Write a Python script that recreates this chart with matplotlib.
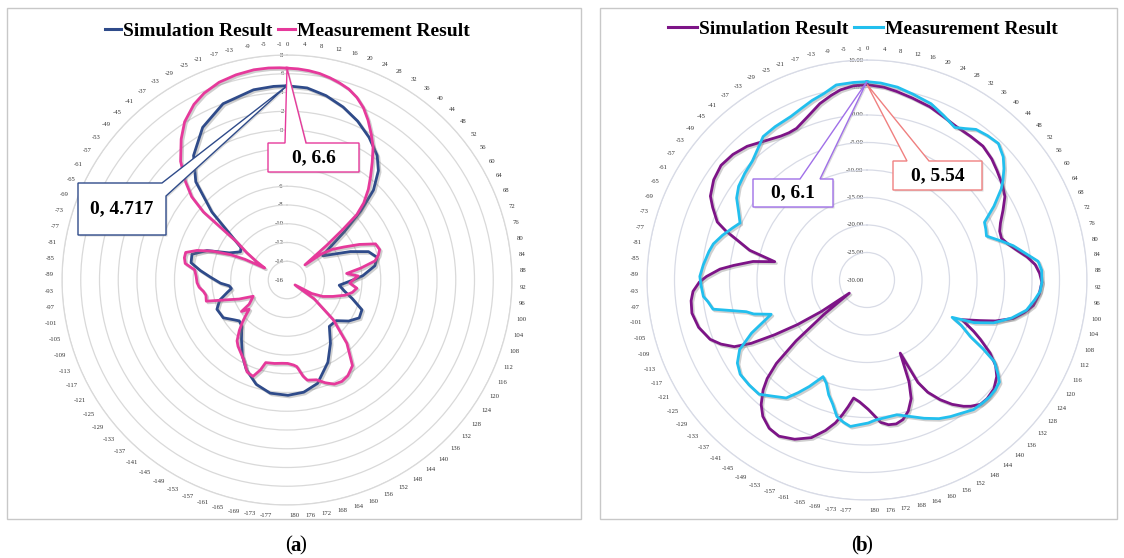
import numpy as np
import matplotlib
matplotlib.use('Agg')
import matplotlib.pyplot as plt
import matplotlib.patheffects as pe
from matplotlib.patches import Polygon, Rectangle
from matplotlib.lines import Line2D
from matplotlib.font_manager import FontProperties
import matplotlib.transforms as mtransforms

W, H = 1124, 558
N_CAT = 361  # categories: 0..180, -180..-1

# ---------------- data ----------------
tick_angles = list(range(0, 181, 4)) + list(range(-177, 0, 4))
tick_labels = [str(a) for a in tick_angles]

sim_a_angle = [0, 6, 12, 18, 24, 30, 36, 40, 44, 47, 50, 53, 56, 60, 66, 71, 76, 81, 87, 91,
               96, 101, 106, 112, 118, 124, 130, 138, 146, 154, 164, 172, 180, -172, -164,
               -156, -150, -143, -136, -131, -127, -121, -113, -107, -102, -99, -96, -93,
               -88, -84, -80, -75, -70, -65, -59, -55, -52, -48, -43, -37, -29, -20, -10, -4]
sim_a_value = [4.72, 4.6, 4.1, 3.4, 2.55, 1.55, 0.4, -0.8, -2.7, -5.2, -8.0, -10.3, -11.4,
               -10.6, -8.6, -6.8, -6.1, -6.5, -7.9, -9.2, -10.4, -9.8, -8.8, -7.4, -7.3, -8.1,
               -9.2, -9.3, -7.8, -6.2, -4.5, -3.9, -3.7, -3.8, -4.4, -5.5, -6.6, -8.0, -9.1,
               -9.3, -8.9, -8.1, -7.9, -8.5, -9.5, -10.0, -9.8, -8.9, -7.8, -6.7, -5.6, -5.5,
               -6.9, -9.2, -10.2, -10.0, -8.6, -5.2, -1.7, 0.6, 2.6, 4.0, 4.6, 4.7]

meas_a_angle = [0, 3, 6, 9, 12, 15, 18, 21, 24, 27, 30, 33, 36, 39, 42, 45, 47, 48, 49, 50,
                53, 56, 60, 64, 68, 72, 75, 78, 81, 84, 87, 90, 93, 97, 101, 105, 110, 115,
                119, 122, 125, 131, 137, 143, 148, 152, 156, 160, 164, 169, 171, 174, 176,
                180, -177, -172, -166, -164, -161, -157, -152, -148, -144, -141, -137, -134,
                -131, -128, -125, -123, -120, -116, -112, -108, -105, -101, -98, -95, -92,
                -88, -84, -81, -78, -75, -72, -69, -66, -64, -62, -59, -56, -53, -51, -49,
                -46, -42, -37, -33, -28, -24, -19, -14, -9, -5, -2]
meas_a_value = [6.6, 6.55, 6.45, 6.3, 6.05, 5.75, 5.4, 4.85, 4.1, 3.1, 2.0, 0.9, -0.5, -1.8,
                -3.0, -4.4, -5.8, -8.0, -10.4, -13.5, -11.4, -10.2, -9.0, -7.4, -5.8, -5.6,
                -5.9, -6.4, -8.0, -9.6, -8.4, -8.9, -9.3, -8.5, -8.9, -9.6, -10.8, -11.8,
                -13.0, -15.0, -12.5, -9.5, -6.7, -4.5, -3.9, -3.7, -3.8, -4.3, -4.9, -5.1,
                -5.6, -6.7, -6.9, -7.1, -7.1, -7.0, -6.9, -6.0, -5.1, -5.3, -6.3, -6.8,
                -7.2, -7.6, -8.6, -9.4, -10.2, -10.9, -10.1, -11.2, -11.6, -12.0, -10.5,
                -9.0, -7.1, -7.2, -7.0, -6.6, -6.4, -6.3, -6.1, -5.0, -4.8, -4.8, -5.9,
                -7.5, -9.4, -11.0, -13.3, -12.2, -10.8, -9.3, -4.5, -2.5, -0.9, 1.0, 2.8,
                4.1, 5.2, 5.8, 6.3, 6.55, 6.7, 6.7, 6.65]

sim_b_angle = [0, 5, 9, 14, 20, 25, 30, 36, 41, 46, 50, 55, 59, 63, 67, 70, 73, 76, 79, 82,
               85, 88, 91, 95, 99, 102, 105, 108, 110, 113, 116, 118, 121, 124, 127, 131,
               135, 138, 141, 143, 146, 149, 152, 154, 156, 158, 160, 163, 166, 169, 172,
               175, 177, 180, -177, -174, -172, -170, -168, -165, -161, -156, -151, -147,
               -143, -140, -137, -135, -133, -131, -129, -127, -125, -123, -121, -119, -117,
               -114, -111, -106, -101, -97, -94, -91, -89, -86, -84, -81, -79, -76, -73,
               -71, -69, -65, -62, -57, -52, -47, -42, -37, -31, -28, -25, -20, -15, -11,
               -8, -4]
sim_b_value = [5.54, 5.2, 4.7, 4.1, 3.5, 2.8, 2.3, 2.2, 2.2, 1.6, 0.9, 0.1, -0.7, -2.2, -3.6,
               -4.3, -4.4, -3.5, -2.2, -0.6, 0.7, 1.4, 1.8, 1.4, 0.6, -0.8, -2.5, -5.5, -8.1,
               -11.3, -8.5, -6.7, -4.0, -1.9, -0.6, 0.4, 0.7, 0.6, -0.3, -1.1, -2.6, -4.5,
               -6.8, -9.2, -15.4, -10.0, -7.0, -5.0, -3.8, -3.3, -3.4, -4.0, -5.1, -6.5,
               -7.8, -8.4, -6.7, -5.0, -3.4, -1.6, 0.4, 1.8, 2.6, 2.3, 1.2, -0.3, -2.5,
               -4.5, -7.6, -13.0, -20.0, -26.0, -20.0, -15.0, -10.5, -6.0, -3.0, -1.0, 0.5,
               1.8, 2.4, 2.2, 1.7, 0.5, -0.8, -3.2, -5.6, -9.0, -12.9, -8.0, -5.2, -2.8,
               -0.8, 1.0, 2.3, 3.3, 3.75, 3.4, 2.65, 1.5, 0.5, 0.3, 0.4, 1.6, 3.2, 4.2, 4.9,
               5.4]

meas_b_angle = [0, 4, 9, 14, 20, 25, 30, 33, 36, 40, 44, 48, 51, 54, 56, 60, 64, 67, 70, 74,
                77, 81, 84, 87, 91, 94, 97, 101, 105, 109, 112, 114, 116, 119, 121, 123, 126,
                128, 131, 134, 137, 141, 145, 149, 153, 158, 163, 168, 172, 177, 180, -177,
                -174, -171, -168, -165, -162, -159, -156, -152, -149, -146, -141, -137,
                -132, -127, -123, -119, -115, -110, -107, -105, -101, -98, -96, -92, -89,
                -85, -80, -77, -73, -69, -66, -62, -58, -54, -49, -44, -40, -36, -31, -25,
                -21, -17, -13, -9, -4]
meas_b_value = [6.06, 5.9, 5.5, 4.8, 4.1, 3.0, 2.0, 2.8, 3.8, 4.2, 4.45, 3.4, 2.1, 0.6, -0.5,
                -3.3, -6.2, -6.5, -6.85, -4.6, -2.7, -0.6, 1.3, 1.8, 1.8, 1.55, 0.7, -0.5,
                -2.8, -5.7, -9.0, -13.1, -11.0, -8.6, -5.5, -2.5, -0.7, 0.4, 0.7, 0.8, 0.7,
                0.5, -0.3, -0.9, -1.6, -2.8, -4.0, -4.9, -4.8, -4.5, -4.0, -3.6, -3.2, -3.8,
                -4.6, -6.6, -8.0, -9.8, -10.7, -8.0, -6.0, -4.0, -2.7, -1.43, -1.3, -1.27,
                -2.0, -3.6, -6.9, -11.5, -8.5, -7.3, -1.5, -0.8, -0.1, 0.2, 0.4, -0.1, -0.8,
                -1.3, -2.5, -3.8, -4.7, -3.5, -2.0, -1.1, -0.5, 0.05, 1.0, 2.2, 2.5, 2.8,
                3.4, 4.15, 4.8, 5.9, 6.0]

legend_labels = ['Simulation Result', 'Measurement Result']
colors_a = ['#2f4b8a', '#e6399b']
colors_b = ['#7d1487', '#22bfee']


def theta_of(angle_list):
    idx = np.array([a if a >= 0 else N_CAT + a for a in angle_list], float)
    return idx * 2 * np.pi / N_CAT


fig = plt.figure(figsize=(W / 100, H / 100), dpi=100)
fig.patch.set_facecolor('white')

serif = 'Liberation Serif'


def px_rect(cx, cy, R):
    return [(cx - R) / W, (H - cy - R) / H, 2 * R / W, 2 * R / H]


def make_polar(cx, cy, R, rmin, rmax, rstep, ring_color, fmt):
    ax = fig.add_axes(px_rect(cx, cy, R), projection='polar')
    ax.set_theta_zero_location('N')
    ax.set_theta_direction(-1)
    ax.set_ylim(rmin, rmax)
    rt = np.arange(rmin, rmax + 1e-6, rstep)
    ax.set_yticks(rt)
    ax.set_yticklabels([])
    ax.yaxis.grid(True, color=ring_color, lw=0.9)
    ax.xaxis.grid(False)
    ax.set_xticks([])
    ax.spines['polar'].set_color(ring_color)
    ax.spines['polar'].set_linewidth(0.9)
    ax.patch.set_alpha(0)
    off = mtransforms.offset_copy(ax.transData, fig=fig, x=-2.5, y=0, units='points')
    for v in rt:
        ax.text(0, v, fmt(v), transform=off, ha='right', va='center', fontsize=4.8,
                family=serif, color='#333333', zorder=1)
    # category (angle) labels, anchored at their edge like Excel
    th = theta_of(tick_angles)
    g = 8.0
    for t, lbl in zip(th, tick_labels):
        w = len(lbl) * 3.4
        h = 6.0
        s = np.sin(t)
        sg = 0.0 if abs(s) < 1e-9 else np.sign(s)
        dx = (R + g) * s + sg * w / 2
        dy = (R + g) * np.cos(t) + np.cos(t) * h / 2
        ax.annotate(lbl, xy=(0, rmin), xytext=(dx, dy),
                    textcoords='offset pixels', ha='center', va='center', fontsize=4.8,
                    family=serif, color='#333333', annotation_clip=False)
    return ax


def draw_series(ax, angles, values, color):
    th = list(theta_of(angles)) + [2 * np.pi]
    vv = list(values) + [values[0]]
    ax.plot(th, vv, color=color, lw=2.0, solid_joinstyle='round', zorder=3,
            path_effects=[pe.SimpleLineShadow(offset=(1.2, -1.2), shadow_color='#777777', alpha=0.35),
                          pe.Normal()])


def callout(ax, value, box, base, text, ec, fs=14):
    # box: (L, T, R, B) in figure pixels (y from top); base: wedge base points in pixels
    tip = ax.transData.transform((0, value))  # display coords
    tipx, tipy = tip[0], tip[1]
    L, T, R, B = box
    if base[1][0] >= R and base[1][1] > T:
        pts_px = [(L, T), base[0], None, base[1], (R, B), (L, B)]
    else:
        pts_px = [(L, T), base[0], None, base[1], (R, T), (R, B), (L, B)]
    pts = []
    for p in pts_px:
        if p is None:
            pts.append((tipx / W, tipy / H))
        else:
            pts.append((p[0] / W, (H - p[1]) / H))
    shadow = Polygon([(x + 1.5 / W, y - 1.5 / H) for x, y in pts], closed=True,
                     transform=fig.transFigure, facecolor='#999999', edgecolor='none',
                     alpha=0.35, zorder=5)
    fig.add_artist(shadow)
    poly = Polygon(pts, closed=True, transform=fig.transFigure, facecolor='white',
                   edgecolor=ec, lw=1.0, zorder=6)
    fig.add_artist(poly)
    fig.text((L + R) / 2 / W, 1 - (T + B) / 2 / H, text, ha='center', va='center',
             fontsize=fs, fontweight='bold', family=serif, color='black', zorder=7)


# frames
fig.add_artist(Rectangle((7 / W, 1 - 519 / H), (581 - 7) / W, (519 - 8) / H,
                         transform=fig.transFigure, fill=False, edgecolor='#c8c8c8', lw=1.0))
fig.add_artist(Rectangle((600 / W, 1 - 519 / H), (1117 - 600) / W, (519 - 8) / H,
                         transform=fig.transFigure, fill=False, edgecolor='#c8c8c8', lw=1.0))

# panel (a)
axa = make_polar(287, 280, 225, -16, 8, 2, '#d9d9d9', lambda v: '%d' % v)
draw_series(axa, sim_a_angle, sim_a_value, colors_a[0])
draw_series(axa, meas_a_angle, meas_a_value, colors_a[1])
callout(axa, 4.717, (78, 183, 166, 235), [(162, 183), (166, 196)], '0, 4.717', colors_a[0])
callout(axa, 6.6, (268, 143, 359, 172), [(285, 143), (306, 143)], '0, 6.6', colors_a[1])

# panel (b)
axb = make_polar(867, 280, 220, -30, 10, 5, '#d8dbe6', lambda v: '%.2f' % v)
draw_series(axb, sim_b_angle, sim_b_value, colors_b[0])
draw_series(axb, meas_b_angle, meas_b_value, colors_b[1])
callout(axb, 6.1, (753, 179, 833, 207), [(800, 179), (820, 179)], '0, 6.1', '#a070e8')
callout(axb, 5.54, (893, 161, 982, 190), [(907, 161), (929, 161)], '0, 5.54', '#f08080')

# legends
lp = FontProperties(family=serif, weight='bold', size=14)
for cx, cy, cols, hl in ((287, 31, colors_a, 0.85), (863, 29, colors_b, 1.5)):
    handles = [Line2D([], [], color=c, lw=2.2) for c in cols]
    fig.legend(handles, legend_labels, loc='center', bbox_to_anchor=(cx / W, 1 - cy / H),
               ncol=2, frameon=False, prop=lp, handlelength=hl, handletextpad=0.1,
               columnspacing=0.3, borderaxespad=0)

# sub-captions
for cx, letter in ((296, 'a'), (862, 'b')):
    fig.text((cx - 7) / W, 1 - 546 / H, '(', ha='center', va='center', fontsize=15, family=serif)
    fig.text(cx / W, 1 - 546 / H, letter, ha='center', va='center', fontsize=15, family=serif,
             fontweight='bold')
    fig.text((cx + 7) / W, 1 - 546 / H, ')', ha='center', va='center', fontsize=15, family=serif)

fig.savefig('out.png', dpi=100)
